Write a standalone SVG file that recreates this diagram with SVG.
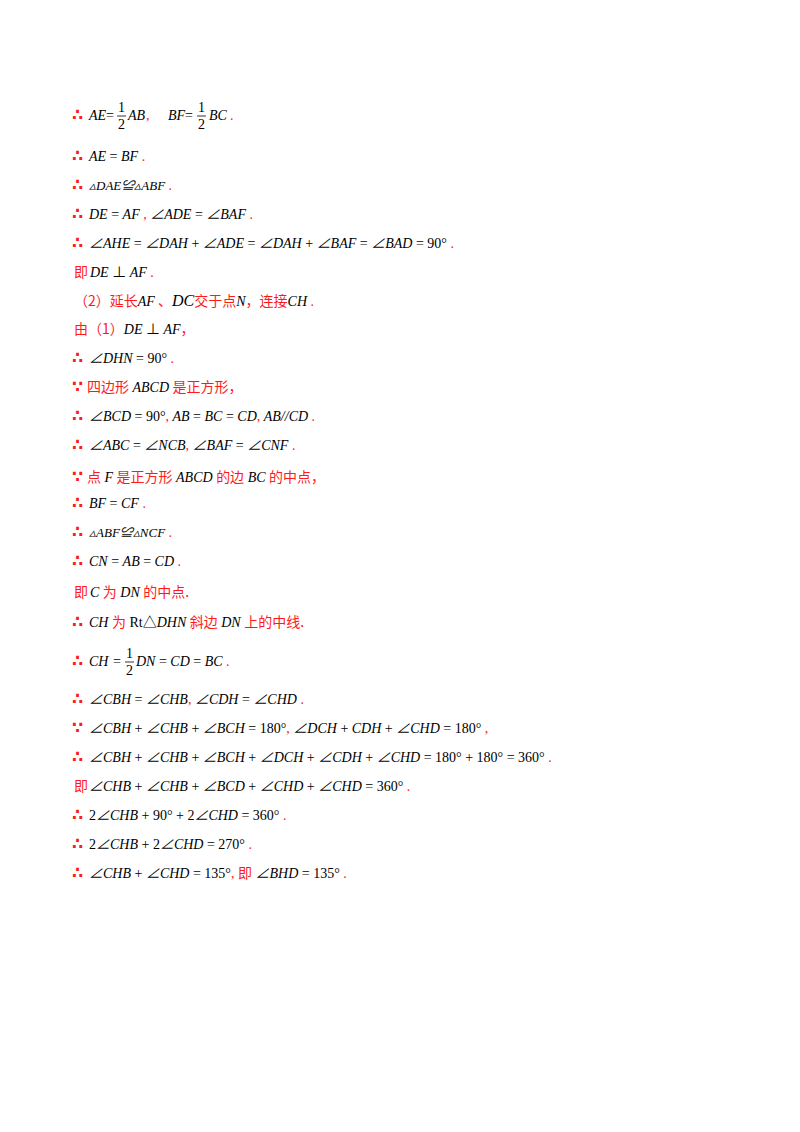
<svg xmlns="http://www.w3.org/2000/svg" width="800" height="1132" viewBox="0 0 800 1132">
<style>
.t{font-family:"Liberation Serif","Noto Sans CJK SC",serif;font-size:14px;fill:#000}
.m{font-style:italic}
.r{fill:#ff1a1a;font-style:normal}
.d{fill:#ff1a1a;font-style:normal;font-weight:bold;font-size:16px;font-family:"DejaVu Sans",sans-serif}
.c{font-family:"Noto Sans CJK SC",sans-serif;fill:#ff1a1a;font-style:normal}
.n{font-style:normal}
</style>
<rect width="800" height="1132" fill="#fff"/>
<g id="text">
<text class="t" y="120"><tspan x="72" class="d">∴</tspan><tspan x="89" class="m">AE</tspan><tspan x="106" class="n">=</tspan><tspan x="128" class="m">AB</tspan><tspan x="146" class="r">,</tspan><tspan x="168" class="m">BF</tspan><tspan x="185" class="n">=</tspan><tspan x="209" class="m">BC</tspan><tspan x="230" class="r">.</tspan></text>
<text class="t n" x="118" y="112" font-size="13">1</text><text class="t n" x="118" y="129" font-size="13">2</text>
<line x1="117" y1="116" x2="126" y2="116" stroke="#000" stroke-width="0.8"/>
<text class="t n" x="198" y="112" font-size="13">1</text><text class="t n" x="198" y="129" font-size="13">2</text>
<line x1="197" y1="116" x2="206" y2="116" stroke="#000" stroke-width="0.8"/>
<text class="t" y="161"><tspan x="72" class="d">∴</tspan><tspan x="89" class="m">AE</tspan><tspan class="n"> = </tspan><tspan class="m">BF</tspan><tspan class="r"> .</tspan></text>
<text class="t" y="190"><tspan x="72" class="d">∴</tspan><tspan x="89" class="m" font-size="13">▵DAE≌▵ABF</tspan><tspan class="r">  .</tspan></text>
<text class="t" y="219"><tspan x="72" class="d">∴</tspan><tspan x="89" class="m">DE</tspan><tspan class="n"> = </tspan><tspan class="m">AF</tspan><tspan class="r"> ,  </tspan><tspan class="m">∠ADE</tspan><tspan class="n"> = </tspan><tspan class="m">∠BAF</tspan><tspan class="r"> .</tspan></text>
<text class="t" y="248"><tspan x="72" class="d">∴</tspan><tspan x="89" class="m">∠AHE</tspan><tspan class="n"> = </tspan><tspan class="m">∠DAH</tspan><tspan class="n"> + </tspan><tspan class="m">∠ADE</tspan><tspan class="n"> = </tspan><tspan class="m">∠DAH</tspan><tspan class="n"> + </tspan><tspan class="m">∠BAF</tspan><tspan class="n"> = </tspan><tspan class="m">∠BAD</tspan><tspan class="n"> = 90°</tspan><tspan class="r">  .</tspan></text>
<text class="t" y="277"><tspan x="74" class="c">即</tspan><tspan x="90" class="m">DE</tspan><tspan class="n"> ⊥ </tspan><tspan class="m">AF</tspan><tspan class="r"> .</tspan></text>
<text class="t" y="306"><tspan x="74" class="c">（2）延长</tspan><tspan class="m">AF</tspan><tspan class="c"> 、</tspan><tspan class="m" font-size="16">DC</tspan><tspan class="c">交于点</tspan><tspan class="m">N</tspan><tspan class="c">，连接</tspan><tspan class="m">CH</tspan><tspan class="r"> .</tspan></text>
<text class="t" y="334"><tspan x="74" class="c">由（1）</tspan><tspan class="m">DE</tspan><tspan class="n"> ⊥ </tspan><tspan class="m">AF</tspan><tspan class="c">，</tspan></text>
<text class="t" y="363"><tspan x="72" class="d">∴</tspan><tspan x="89" class="m">∠DHN</tspan><tspan class="n"> = 90°</tspan><tspan class="r"> .</tspan></text>
<text class="t" y="392"><tspan x="72" class="d">∵</tspan><tspan x="87" class="c">四边形</tspan><tspan class="m"> ABCD </tspan><tspan class="c">是正方形，</tspan></text>
<text class="t" y="421"><tspan x="72" class="d">∴</tspan><tspan x="89" class="m">∠BCD</tspan><tspan class="n"> = 90°</tspan><tspan class="r">,  </tspan><tspan class="m">AB</tspan><tspan class="n"> = </tspan><tspan class="m">BC</tspan><tspan class="n"> = </tspan><tspan class="m">CD</tspan><tspan class="r">,  </tspan><tspan class="m">AB//CD</tspan><tspan class="r"> .</tspan></text>
<text class="t" y="450"><tspan x="72" class="d">∴</tspan><tspan x="89" class="m">∠ABC</tspan><tspan class="n"> = </tspan><tspan class="m">∠NCB</tspan><tspan class="r">,  </tspan><tspan class="m">∠BAF</tspan><tspan class="n"> = </tspan><tspan class="m">∠CNF</tspan><tspan class="r"> .</tspan></text>
<text class="t" y="482"><tspan x="72" class="d">∵</tspan><tspan x="87" class="c">点</tspan><tspan class="m"> F </tspan><tspan class="c">是正方形</tspan><tspan class="m"> ABCD </tspan><tspan class="c">的边</tspan><tspan class="m"> BC </tspan><tspan class="c">的中点，</tspan></text>
<text class="t" y="508"><tspan x="72" class="d">∴</tspan><tspan x="89" class="m">BF</tspan><tspan class="n"> = </tspan><tspan class="m">CF</tspan><tspan class="r"> .</tspan></text>
<text class="t" y="537"><tspan x="72" class="d">∴</tspan><tspan x="89" class="m" font-size="13">▵ABF≌▵NCF</tspan><tspan class="r"> .</tspan></text>
<text class="t" y="566"><tspan x="72" class="d">∴</tspan><tspan x="89" class="m">CN</tspan><tspan class="n"> = </tspan><tspan class="m">AB</tspan><tspan class="n"> = </tspan><tspan class="m">CD</tspan><tspan class="r"> .</tspan></text>
<text class="t" y="597"><tspan x="74" class="c">即</tspan><tspan x="90" class="m">C </tspan><tspan class="c">为</tspan><tspan class="m"> DN </tspan><tspan class="c">的中点.</tspan></text>
<text class="t" y="627"><tspan x="72" class="d">∴</tspan><tspan x="89" class="m">CH </tspan><tspan class="c">为</tspan><tspan class="n"> Rt△</tspan><tspan class="m">DHN </tspan><tspan class="c">斜边</tspan><tspan class="m"> DN </tspan><tspan class="c">上的中线.</tspan></text>
<text class="t" y="666"><tspan x="72" class="d">∴</tspan><tspan x="89" class="m">CH</tspan><tspan x="113" class="n">=</tspan><tspan x="136" class="m">DN</tspan><tspan class="n"> = </tspan><tspan class="m">CD</tspan><tspan class="n"> = </tspan><tspan class="m">BC</tspan><tspan class="r"> .</tspan></text>
<text class="t n" x="126" y="658" font-size="13">1</text><text class="t n" x="126" y="675" font-size="13">2</text>
<line x1="125" y1="662" x2="134" y2="662" stroke="#000" stroke-width="0.8"/>
<text class="t" y="704"><tspan x="72" class="d">∴</tspan><tspan x="89" class="m">∠CBH</tspan><tspan class="n"> = </tspan><tspan class="m">∠CHB</tspan><tspan class="r">,  </tspan><tspan class="m">∠CDH</tspan><tspan class="n"> = </tspan><tspan class="m">∠CHD</tspan><tspan class="r"> .</tspan></text>
<text class="t" y="733"><tspan x="72" class="d">∵</tspan><tspan x="89" class="m">∠CBH</tspan><tspan class="n"> + </tspan><tspan class="m">∠CHB</tspan><tspan class="n"> + </tspan><tspan class="m">∠BCH</tspan><tspan class="n"> = 180°</tspan><tspan class="r">,  </tspan><tspan class="m">∠DCH</tspan><tspan class="n"> + </tspan><tspan class="m">CDH</tspan><tspan class="n"> + </tspan><tspan class="m">∠CHD</tspan><tspan class="n"> = 180°</tspan><tspan class="r"> ,</tspan></text>
<text class="t" y="762"><tspan x="72" class="d">∴</tspan><tspan x="89" class="m">∠CBH</tspan><tspan class="n"> + </tspan><tspan class="m">∠CHB</tspan><tspan class="n"> + </tspan><tspan class="m">∠BCH</tspan><tspan class="n"> + </tspan><tspan class="m">∠DCH</tspan><tspan class="n"> + </tspan><tspan class="m">∠CDH</tspan><tspan class="n"> + </tspan><tspan class="m">∠CHD</tspan><tspan class="n"> = 180° + 180° = 360°</tspan><tspan class="r"> .</tspan></text>
<text class="t" y="791"><tspan x="74" class="c">即</tspan><tspan x="89" class="m">∠CHB</tspan><tspan class="n"> + </tspan><tspan class="m">∠CHB</tspan><tspan class="n"> + </tspan><tspan class="m">∠BCD</tspan><tspan class="n"> + </tspan><tspan class="m">∠CHD</tspan><tspan class="n"> + </tspan><tspan class="m">∠CHD</tspan><tspan class="n"> = 360°</tspan><tspan class="r"> .</tspan></text>
<text class="t" y="820"><tspan x="72" class="d">∴</tspan><tspan x="89" class="n">2</tspan><tspan class="m">∠CHB</tspan><tspan class="n"> + 90° + 2</tspan><tspan class="m">∠CHD</tspan><tspan class="n"> = 360°</tspan><tspan class="r"> .</tspan></text>
<text class="t" y="849"><tspan x="72" class="d">∴</tspan><tspan x="89" class="n">2</tspan><tspan class="m">∠CHB</tspan><tspan class="n"> + 2</tspan><tspan class="m">∠CHD</tspan><tspan class="n"> = 270°</tspan><tspan class="r"> .</tspan></text>
<text class="t" y="878"><tspan x="72" class="d">∴</tspan><tspan x="89" class="m">∠CHB</tspan><tspan class="n"> + </tspan><tspan class="m">∠CHD</tspan><tspan class="n"> = 135°</tspan><tspan class="r">,  </tspan><tspan class="c">即</tspan><tspan class="m"> ∠BHD</tspan><tspan class="n"> = 135°</tspan><tspan class="r"> .</tspan></text>
</g>
</svg>
